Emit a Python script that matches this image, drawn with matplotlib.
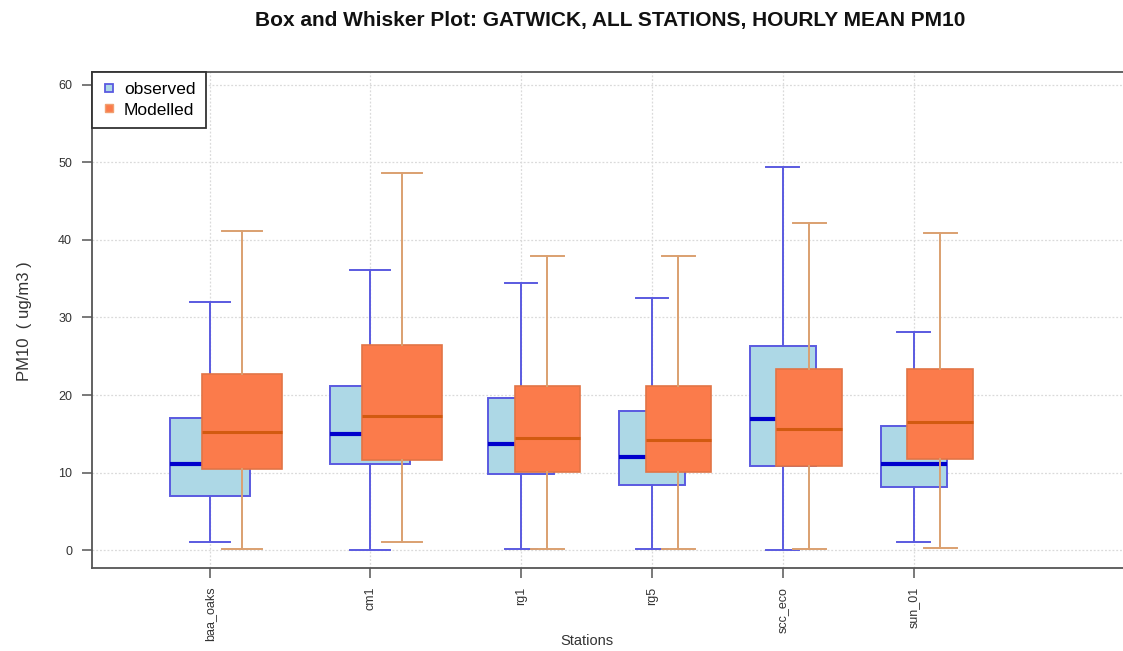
import matplotlib
matplotlib.use("Agg")
import matplotlib.pyplot as plt
from matplotlib.lines import Line2D

# Station names
stations = ["baa_oaks", "cm1", "rg1", "rg5", "scc_eco", "sun_01"]

# Observed hourly mean PM10 summary (ug/m3)
obs_min = [1.0, 0.0, 0.1, 0.1, 0.0, 1.0]
obs_q1 = [7.0, 11.1, 9.8, 8.4, 10.9, 8.1]
obs_med = [11.1, 15.0, 13.7, 12.0, 16.9, 11.1]
obs_q3 = [17.0, 21.1, 19.6, 18.0, 26.3, 16.0]
obs_max = [32.0, 36.1, 34.5, 32.5, 49.4, 28.1]

# Modelled hourly mean PM10 summary (ug/m3)
mod_min = [0.1, 1.1, 0.1, 0.1, 0.1, 0.2]
mod_q1 = [10.5, 11.6, 10.1, 10.1, 10.9, 11.8]
mod_med = [15.2, 17.3, 14.4, 14.2, 15.6, 16.5]
mod_q3 = [22.7, 26.4, 21.2, 21.2, 23.4, 23.4]
mod_max = [41.1, 48.6, 37.9, 37.9, 42.2, 40.9]

y_ticks = [0, 10, 20, 30, 40, 50, 60]

# Layout of the station groups along the x axis
centres = [1.0, 2.0, 2.944, 3.763, 4.581, 5.40]
box_w = [0.5, 0.5, 0.41, 0.41, 0.41, 0.41]
shift = [0.2, 0.2, 0.165, 0.165, 0.165, 0.165]


def make_stats(lo, q1, med, q3, hi):
    return [dict(whislo=a, q1=b, med=c, q3=d, whishi=e, fliers=[], label=n)
            for a, b, c, d, e, n in zip(lo, q1, med, q3, hi, stations)]


plt.rcParams["font.family"] = ["Liberation Sans", "DejaVu Sans"]

fig = plt.figure(figsize=(11.23, 6.51), dpi=100)
ax = fig.add_axes([0.0817, 0.127, 0.9228, 0.763])

# Observed boxes
ax.bxp(make_stats(obs_min, obs_q1, obs_med, obs_q3, obs_max),
       positions=centres, widths=box_w, patch_artist=True,
       showfliers=False, manage_ticks=False,
       boxprops=dict(facecolor="#add8e6", edgecolor="#5a5ae0", linewidth=1.4),
       medianprops=dict(color="#0000cc", linewidth=3.0, solid_capstyle="butt"),
       whiskerprops=dict(color="#5a5ae0", linewidth=1.4),
       capprops=dict(color="#5a5ae0", linewidth=1.4),
       zorder=3)

# Modelled boxes, drawn over the observed ones
mod_pos = [c + s for c, s in zip(centres, shift)]
ax.bxp(make_stats(mod_min, mod_q1, mod_med, mod_q3, mod_max),
       positions=mod_pos, widths=box_w, patch_artist=True,
       showfliers=False, manage_ticks=False,
       boxprops=dict(facecolor="#fb7b4b", edgecolor="#e27446", linewidth=1.2),
       medianprops=dict(color="#d25a10", linewidth=2.2, solid_capstyle="butt"),
       whiskerprops=dict(color="#dba070", linewidth=1.4),
       capprops=dict(color="#dba070", linewidth=1.4),
       zorder=4)

ax.set_xlim(0.26, 6.74)
ax.set_ylim(-2.36, 61.72)
ax.set_xticks(centres)
ax.set_xticklabels(stations, rotation=90, fontsize=9, color="#333333")
ax.set_yticks(y_ticks)
ax.set_yticklabels([str(v) for v in y_ticks], fontsize=9, color="#333333")
ax.tick_params(axis="both", length=7.2, width=1.1, color="#555555")
ax.tick_params(axis="y", pad=7)
ax.tick_params(axis="x", pad=6)

ax.grid(True, linestyle=(0, (1.5, 1.5)), color="#dadada", linewidth=0.9, zorder=0)
ax.set_axisbelow(True)

for side in ("left", "top", "bottom", "right"):
    ax.spines[side].set_color("#555555")
    ax.spines[side].set_linewidth(1.3)

ax.set_xlabel("Stations", fontsize=10.5, color="#333333")
ax.xaxis.set_label_coords(0.478, -0.1464)
ax.xaxis.label.set_va("center")
ax.set_ylabel("PM10  ( ug/m3 )", fontsize=12, color="#333333")
ax.yaxis.set_label_coords(-0.065, 0.498)
ax.yaxis.label.set_va("center")

fig.text(0.543, 0.969, "Box and Whisker Plot: GATWICK, ALL STATIONS, HOURLY MEAN PM10",
         ha="center", va="center", fontsize=15, fontweight="bold", color="#111111")

handles = [
    Line2D([], [], linestyle="none", marker="s", markersize=6,
           markerfacecolor="#add8e6", markeredgecolor="#5a5ae0", markeredgewidth=1.3),
    Line2D([], [], linestyle="none", marker="s", markersize=6,
           markerfacecolor="#fb7b4b", markeredgecolor="#f0a070", markeredgewidth=1.0),
]
leg = ax.legend(handles, ["observed", "Modelled"], loc="upper left",
                bbox_to_anchor=(0.0, 1.0), fontsize=12.5, frameon=True,
                fancybox=False, edgecolor="#333333", framealpha=1,
                borderpad=0.6, handletextpad=0.45, handlelength=0.8,
                labelspacing=0.3, borderaxespad=0)
leg.get_frame().set_linewidth(1.3)

fig.savefig("out.png", dpi=100, facecolor="white")
